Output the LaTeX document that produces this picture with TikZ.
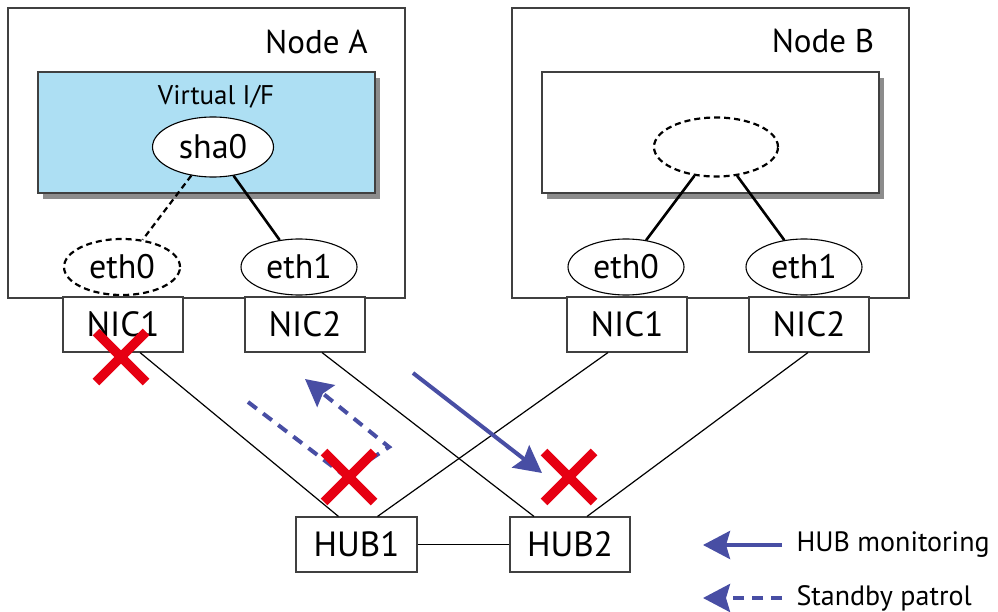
\documentclass[tikz,border=0pt]{standalone}
\usepackage{fontspec}
\setmainfont{PT Sans}
\usetikzlibrary{arrows.meta,calc,shapes.geometric,shadows}
\definecolor{vifblue}{RGB}{173,223,243}
\definecolor{arrblue}{RGB}{72,78,164}
\definecolor{xred}{RGB}{230,0,18}
\tikzset{
  >={Stealth[length=27pt,width=28pt,inset=4pt]},
  frame/.style={draw=black!75,line width=1.3pt,minimum width=397pt,minimum height=290pt,inner sep=0pt},
  vif/.style={draw=black!75,line width=1.1pt,minimum width=337pt,minimum height=121pt,inner sep=0pt,
    drop shadow={shadow xshift=5pt,shadow yshift=-6pt,fill=black!45,opacity=1}},
  eth/.style={ellipse,draw,line width=1.1pt,fill=white,minimum width=116pt,minimum height=56pt,inner sep=0pt,
    font=\fontsize{34}{35}\selectfont},
  dots/.style={line width=2.2pt,dash pattern=on 6pt off 4pt},
  card/.style={draw=black!75,line width=1.1pt,fill=white,minimum width=120pt,minimum height=55pt,inner sep=0pt,
    font=\fontsize{35}{36}\selectfont},
  lbl/.style={font=\fontsize{33}{34}\selectfont},
  link/.style={line width=1.2pt},
  bind/.style={line width=2.6pt},
  mon/.style={->,draw=arrblue,line width=4pt},
  pat/.style={->,draw=arrblue,line width=4pt,dash pattern=on 11pt off 8pt},
  fail/.style={draw=xred,line width=9.5pt},
}
\begin{document}
\begin{tikzpicture}[x=1pt,y=-1pt]
\useasboundingbox (0,0) rectangle (998,612);
% node A
\node[frame] (nodeA) at (206.5,153){}; \node[lbl] (tA) at (316.5,42){Node A};
\node[vif,fill=vifblue] (vifA) at (206.5,132.5){}; \node[lbl,font=\fontsize{27}{28}\selectfont] (tvif) at (216,97){Virtual I/F};
\node[eth,minimum width=121pt,minimum height=60pt] (sha0) at (213,147){sha0};
\node[eth,dots] (eth0A) at (122,267){eth0}; \node[eth] (eth1A) at (299,267){eth1};
\node[card] (nic1A) at (123,324.5){NIC1}; \node[card] (nic2A) at (305,324.5){NIC2};
\draw[dots] (sha0)--(eth0A); \draw[bind] (sha0)--(eth1A);
% node B
\node[frame] (nodeB) at (710.5,153){}; \node[lbl] (tB) at (823,41){Node B};
\node[vif,fill=white] (vifB) at (710.5,132.5){};
\node[eth,dots,minimum width=124pt,minimum height=59pt] (shaB) at (716,147){};
\node[eth] (eth0B) at (626,267){eth0}; \node[eth] (eth1B) at (804,267){eth1};
\node[card] (nic1B) at (627,324.5){NIC1}; \node[card] (nic2B) at (809,324.5){NIC2};
\draw[bind] (shaB)--(eth0B); \draw[bind] (shaB)--(eth1B);
% hubs
\node[card,minimum width=121pt] (hub1) at (356.5,544.5){HUB1}; \node[card] (hub2) at (570,544.5){HUB2};
\draw[link] (hub1)--(hub2);
\draw[link] ($(nic1A.south)+(17,0)$)--($(hub1.north)+(-18,0)$);
\draw[link] ($(nic2A.south)+(17,0)$)--($(hub2.north)+(-36,0)$);
\draw[link] ($(nic1B.south)+(-19,0)$)--($(hub1.north)+(21,0)$);
\draw[link] ($(nic2B.south)+(-1,0)$)--($(hub2.north)+(17,0)$);
% monitoring
\coordinate (m0) at (413,373); \coordinate (m1) at (542,473);
\draw[mon] (m0)--(m1);
\coordinate (p0) at (248,402); \coordinate (p1) at (345,476); \coordinate (p2) at (389,447); \coordinate (p3) at (305,379);
\draw[pat] (p0)--(p1)--(p2)--(p3);
\foreach \p in {(121,357),(349,477),(569,477)}
  \draw[fail] \p ++(-25,-25) -- ++(50,50) \p ++(-25,25) -- ++(50,-50);
% legend
\node[lbl,anchor=west,font=\fontsize{28}{30}\selectfont] (leg1) at (793,545){HUB monitoring};
\node[lbl,anchor=west,font=\fontsize{28}{30}\selectfont] (leg2) at (793,598){Standby patrol};
\draw[mon] ($(leg1.west)+(-11,0)$)--++(-79,0);
\draw[pat] ($(leg2.west)+(-11,0)$)--++(-79,0);
\end{tikzpicture}
\end{document}
